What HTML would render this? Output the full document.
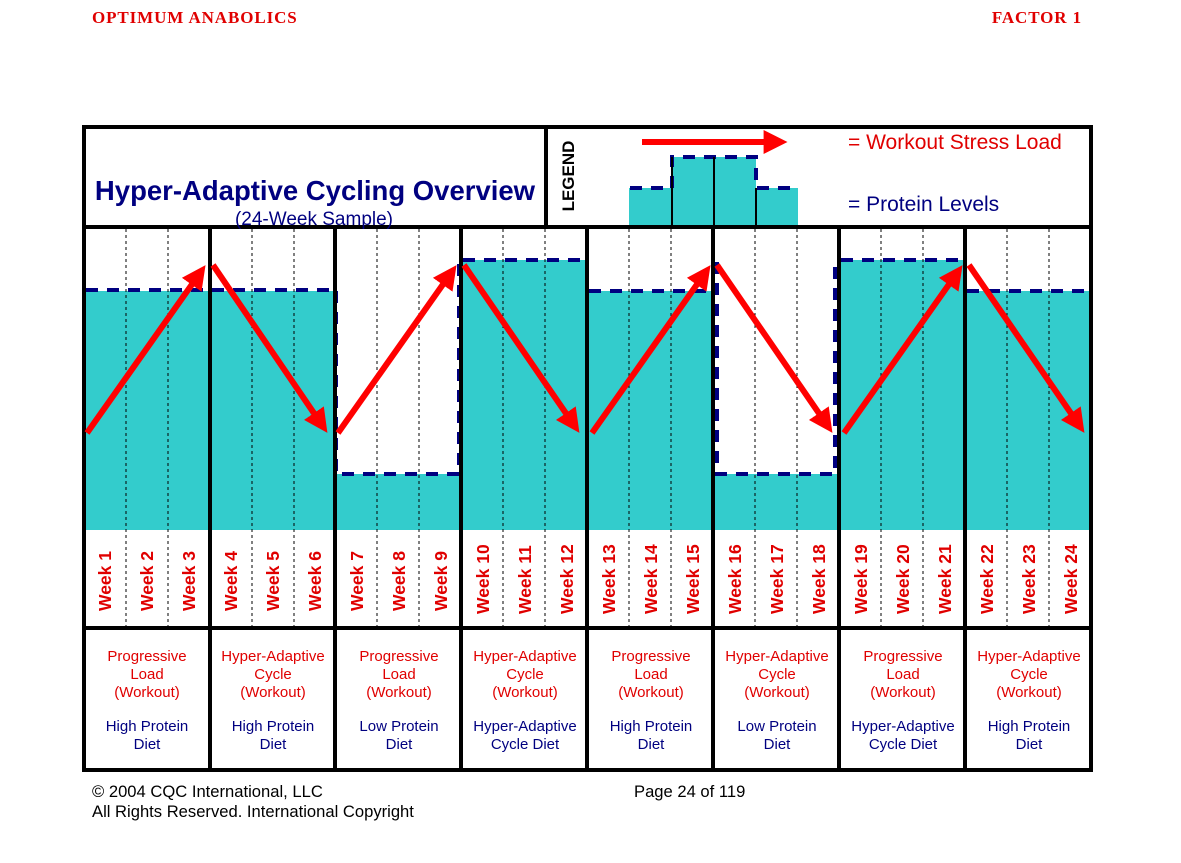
<!DOCTYPE html>
<html><head><meta charset="utf-8"><style>
body{margin:0;background:#fff;width:1181px;height:863px;overflow:hidden}
svg{display:block}
</style></head><body>
<svg width="1181" height="863" xmlns="http://www.w3.org/2000/svg" font-family="Liberation Sans, sans-serif">
<defs><marker id="ah" markerWidth="4" markerHeight="4" refX="2.4" refY="2" orient="auto" markerUnits="strokeWidth"><path d="M0,0 L4,2 L0,4 z" fill="#f00"/></marker></defs>
<text x="92" y="23" font-family="Liberation Serif, serif" font-weight="bold" font-size="17" fill="#e00000" letter-spacing="0.9">OPTIMUM ANABOLICS</text>
<text x="1082" y="23" text-anchor="end" font-family="Liberation Serif, serif" font-weight="bold" font-size="17" fill="#e00000" letter-spacing="0.9">FACTOR 1</text>

<g fill="#33cccc">
<rect x="86" y="291" width="248" height="239"/>
<rect x="336" y="474" width="125" height="56"/>
<rect x="461" y="260" width="126" height="270"/>
<rect x="587" y="291" width="126" height="239"/>
<rect x="713" y="474" width="126" height="56"/>
<rect x="839" y="260" width="126" height="270"/>
<rect x="965" y="291" width="126" height="239"/>
<rect x="629" y="188" width="169" height="39"/>
<rect x="672" y="157" width="84" height="31"/>
</g>
<g stroke="#000080" stroke-width="4" stroke-dasharray="12,9" fill="none">
<path d="M86,290 H334 M336,291 V474 H459 V262 M463,260 H587 M589,291 H711 M717,262 V474 H835 V262 M841,260 H963 M967,291 H1091"/>
<path d="M630,188 H672 V157 H756 V188 H798"/>
</g>
<g stroke="#000" stroke-width="1" stroke-dasharray="3,3">
<path d="M126,229V626M168,229V626M252,229V626M294,229V626M377,229V626M419,229V626M503,229V626M545,229V626M629,229V626M671,229V626M755,229V626M797,229V626M881,229V626M923,229V626M1007,229V626M1049,229V626"/>
</g>
<g stroke="#000" fill="none">
<rect x="84" y="127" width="1007" height="643" stroke-width="4"/>
<path d="M84,227H1091M84,628H1091" stroke-width="4"/>
<path d="M546,127V227" stroke-width="4"/>
<path d="M210,227V770M335,227V770M461,227V770M587,227V770M713,227V770M839,227V770M965,227V770" stroke-width="4"/>
<path d="M672,157V227M714,157V227M756,188V227" stroke-width="2"/>
</g>
<g stroke="#f00" stroke-width="6" fill="none" marker-end="url(#ah)">
<path d="M87,433L200,273"/><path d="M213,265L322,425"/>
<path d="M338,433L451,273"/><path d="M464,265L574,425"/>
<path d="M592,433L705,273"/><path d="M717,265L827,425"/>
<path d="M844,433L957,273"/><path d="M969,265L1079,425"/>
<path d="M642,142L778,142"/>
</g>

<text x="315" y="200" text-anchor="middle" font-weight="bold" font-size="27.5" fill="#000080">Hyper-Adaptive Cycling Overview</text>
<text x="314" y="225" text-anchor="middle" font-size="19" fill="#000080">(24-Week Sample)</text>
<text transform="translate(574,176) rotate(-90)" text-anchor="middle" font-weight="bold" font-size="17" fill="#000">LEGEND</text>
<text x="848" y="149" font-size="21" fill="#e00000">= Workout Stress Load</text>
<text x="848" y="211" font-size="21" fill="#000080">= Protein Levels</text>

<g font-weight="bold" font-size="17.5" fill="#e00000">
<text transform="translate(111,611) rotate(-90)">Week 1</text>
<text transform="translate(153,611) rotate(-90)">Week 2</text>
<text transform="translate(195,611) rotate(-90)">Week 3</text>
<text transform="translate(237,611) rotate(-90)">Week 4</text>
<text transform="translate(279,611) rotate(-90)">Week 5</text>
<text transform="translate(321,611) rotate(-90)">Week 6</text>
<text transform="translate(363,611) rotate(-90)">Week 7</text>
<text transform="translate(405,611) rotate(-90)">Week 8</text>
<text transform="translate(447,611) rotate(-90)">Week 9</text>
<text transform="translate(489,614) rotate(-90)">Week 10</text>
<text transform="translate(531,614) rotate(-90)">Week 11</text>
<text transform="translate(573,614) rotate(-90)">Week 12</text>
<text transform="translate(615,614) rotate(-90)">Week 13</text>
<text transform="translate(657,614) rotate(-90)">Week 14</text>
<text transform="translate(699,614) rotate(-90)">Week 15</text>
<text transform="translate(741,614) rotate(-90)">Week 16</text>
<text transform="translate(783,614) rotate(-90)">Week 17</text>
<text transform="translate(825,614) rotate(-90)">Week 18</text>
<text transform="translate(867,614) rotate(-90)">Week 19</text>
<text transform="translate(909,614) rotate(-90)">Week 20</text>
<text transform="translate(951,614) rotate(-90)">Week 21</text>
<text transform="translate(993,614) rotate(-90)">Week 22</text>
<text transform="translate(1035,614) rotate(-90)">Week 23</text>
<text transform="translate(1077,614) rotate(-90)">Week 24</text>
</g>

<g font-size="15" text-anchor="middle">
<g fill="#e00000">
<text x="147" y="661">Progressive</text><text x="147" y="679">Load</text><text x="147" y="697">(Workout)</text>
<text x="273" y="661">Hyper-Adaptive</text><text x="273" y="679">Cycle</text><text x="273" y="697">(Workout)</text>
<text x="399" y="661">Progressive</text><text x="399" y="679">Load</text><text x="399" y="697">(Workout)</text>
<text x="525" y="661">Hyper-Adaptive</text><text x="525" y="679">Cycle</text><text x="525" y="697">(Workout)</text>
<text x="651" y="661">Progressive</text><text x="651" y="679">Load</text><text x="651" y="697">(Workout)</text>
<text x="777" y="661">Hyper-Adaptive</text><text x="777" y="679">Cycle</text><text x="777" y="697">(Workout)</text>
<text x="903" y="661">Progressive</text><text x="903" y="679">Load</text><text x="903" y="697">(Workout)</text>
<text x="1029" y="661">Hyper-Adaptive</text><text x="1029" y="679">Cycle</text><text x="1029" y="697">(Workout)</text>
</g>
<g fill="#000080">
<text x="147" y="731">High Protein</text><text x="147" y="749">Diet</text>
<text x="273" y="731">High Protein</text><text x="273" y="749">Diet</text>
<text x="399" y="731">Low Protein</text><text x="399" y="749">Diet</text>
<text x="525" y="731">Hyper-Adaptive</text><text x="525" y="749">Cycle Diet</text>
<text x="651" y="731">High Protein</text><text x="651" y="749">Diet</text>
<text x="777" y="731">Low Protein</text><text x="777" y="749">Diet</text>
<text x="903" y="731">Hyper-Adaptive</text><text x="903" y="749">Cycle Diet</text>
<text x="1029" y="731">High Protein</text><text x="1029" y="749">Diet</text>
</g>
</g>

<g font-size="16.6" fill="#000">
<text x="92" y="797">© 2004 CQC International, LLC</text>
<text x="92" y="817">All Rights Reserved. International Copyright</text>
<text x="634" y="797">Page 24 of 119</text>
</g>
</svg>
</body></html>
